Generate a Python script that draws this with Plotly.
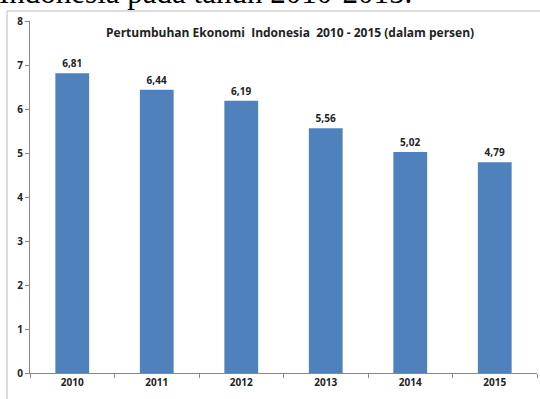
import plotly.graph_objects as go

years = ["2010", "2011", "2012", "2013", "2014", "2015"]
growth = [6.81, 6.44, 6.19, 5.56, 5.02, 4.79]
labels = ["6,81", "6,44", "6,19", "5,56", "5,02", "4,79"]
y_ticks = [0, 1, 2, 3, 4, 5, 6, 7, 8]

L, R, T, B = 30, 3, 21, 26
W, H = 540, 399
pw, ph = W - L - R, H - T - B

def px(x):
    return (x - L) / pw

def py(y):
    return (H - B - y) / ph

fig = go.Figure()
fig.add_trace(go.Bar(
    x=years, y=growth, text=labels, textposition="outside",
    textfont=dict(family="Open Sans", size=10, color="#222", weight="bold"),
    marker=dict(color="#4F81BD", line=dict(width=0)),
    cliponaxis=False,
))

fig.update_layout(
    width=W, height=H,
    margin=dict(l=L, r=R, t=T, b=B),
    paper_bgcolor="white", plot_bgcolor="white",
    bargap=0.6, showlegend=False,
    xaxis=dict(showline=True, linecolor="#888", linewidth=1, ticks="outside",
               tickson="boundaries", ticklen=4, tickcolor="#888",
               tickfont=dict(family="Open Sans", size=10, color="#222", weight="bold"),
               showgrid=False),
    yaxis=dict(range=[0, 8], tickvals=y_ticks, showline=True, linecolor="#888", linewidth=1,
               ticks="outside", ticklen=4, tickcolor="#888", showgrid=False, zeroline=False,
               tickfont=dict(family="Open Sans", size=10, color="#222", weight="bold")),
    shapes=[dict(type="rect", xref="paper", yref="paper",
                 x0=px(7), x1=px(541), y0=py(400), y1=py(11),
                 line=dict(color="#bbb", width=1), fillcolor="rgba(0,0,0,0)", layer="below")],
    annotations=[
        dict(text="Pertumbuhan Ekonomi  Indonesia  2010 - 2015 (dalam persen)",
             xref="paper", yref="paper", x=px(290), y=py(33), xanchor="center", yanchor="middle",
             showarrow=False, font=dict(family="Open Sans", size=12, color="#222", weight="bold")),
        dict(text="Indonesia pada tahun 2010-2015.",
             xref="paper", yref="paper", x=px(-3), y=py(-8),
             xanchor="left", yanchor="middle",
             showarrow=False, font=dict(family="Liberation Serif", size=31, color="black")),
    ],
)

fig.write_html("out.html")
